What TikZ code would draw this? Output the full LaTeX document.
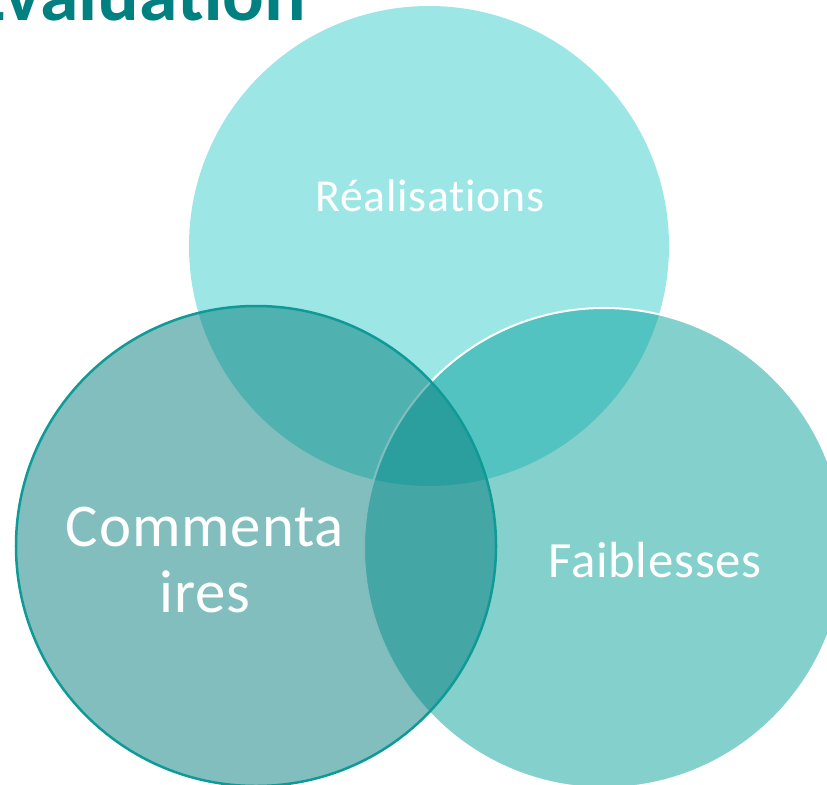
\documentclass[tikz,border=0pt]{standalone}
\usepackage{fontspec}
\setmainfont{Carlito}
\newfontfamily\wide[LetterSpace=1.5,Ligatures={NoCommon}]{Carlito}
\usetikzlibrary{positioning}
\definecolor{heading}{HTML}{008080}
\definecolor{gained}{HTML}{9CE6E6}
\definecolor{weak}{HTML}{0AA19B}
\definecolor{notes}{HTML}{057D7D}
\definecolor{rim}{HTML}{0E9A96}
\tikzset{disc/.style={circle,minimum size=480bp,inner sep=0pt,outer sep=0pt},lab/.style={text=white,align=center,inner sep=0pt,anchor=base}}

\begin{document}
\begin{tikzpicture}[x=1bp,y=-1bp]
\useasboundingbox (0,0) rectangle (827,785);
\clip (0,0) rectangle (827,785);
\node[disc,fill=gained] (top) at (429,246) {};
\node[disc,fill=weak,fill opacity=0.5,draw=white,line width=2bp] (right) at (604,548) {};
\node[disc,fill=notes,fill opacity=0.5,draw=rim,line width=2.5bp] (left) at (256,546) {};
\node[lab,font=\wide\fontsize{46}{50}\selectfont] (gain) at (430,211) {Réalisations};
\node[lab,font=\wide\fontsize{51}{55}\selectfont] (weakness) at (655,577) {Faiblesses};
\node[lab,font=\wide\fontsize{61}{65}\selectfont] (comm1) at (205,546) {Commenta};
\node[lab,font=\wide\fontsize{61}{65}\selectfont] (comm2) at (205,612) {ires};
\node[anchor=base east,inner sep=0pt,text=heading,font=\bfseries\fontsize{78}{80}\selectfont] (head) at (306,21) {Évaluation};
\end{tikzpicture}
\end{document}
